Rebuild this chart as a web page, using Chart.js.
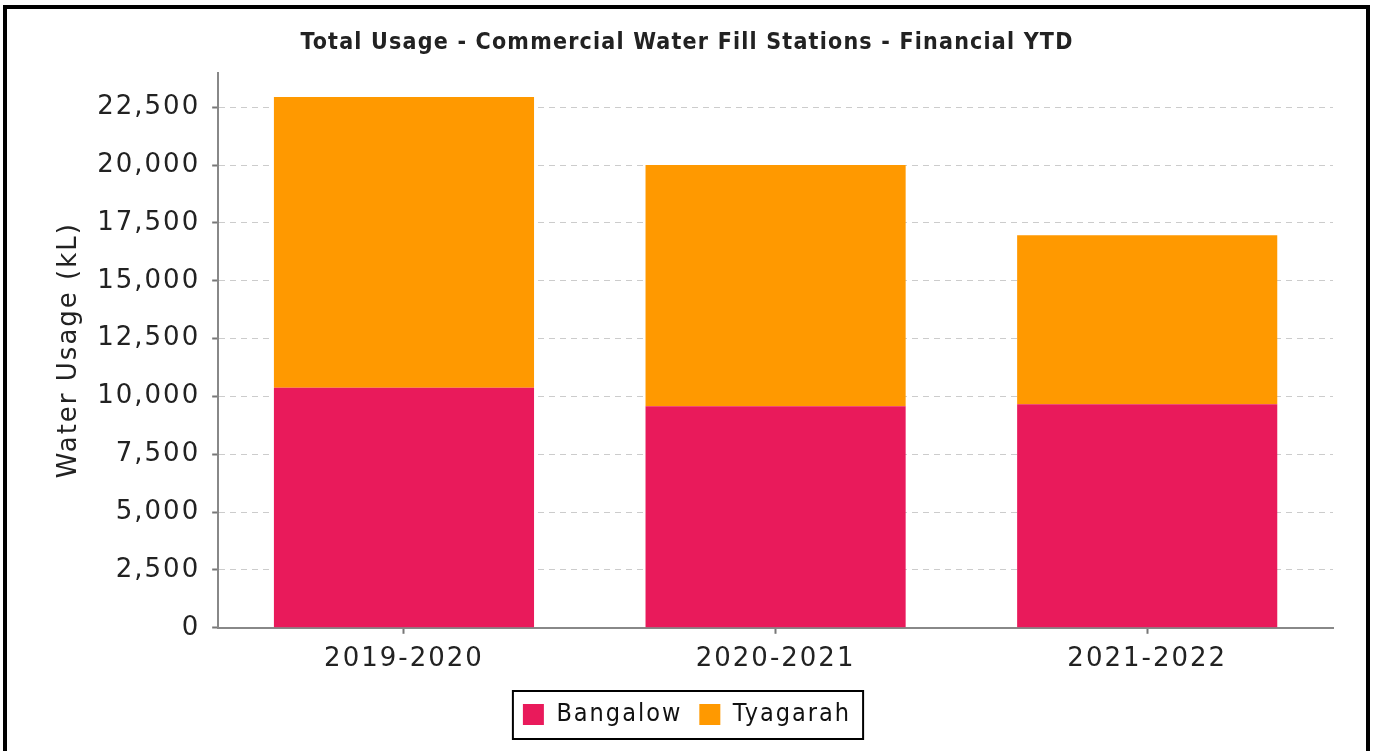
<!DOCTYPE html>
<html>
<head>
<meta charset="utf-8">
<script src="https://cdn.jsdelivr.net/npm/chart.js@4.4.0/dist/chart.umd.min.js"></script>
<style>
html,body{margin:0;padding:0;background:#fff;overflow:hidden;width:1376px;height:751px;}
#frame{position:absolute;left:3px;top:5px;width:1359px;height:800px;border:4px solid #000;box-sizing:content-box;}
#c{position:absolute;left:0;top:0;}
</style>
</head>
<body>
<div id="frame"></div>
<canvas id="c" width="1376" height="751"></canvas>
<script>
// ---- data ----
const categories = ['2019-2020', '2020-2021', '2021-2022'];
const seriesNames = ['Bangalow', 'Tyagarah'];
const bangalow = [10380, 9580, 9660];
const tyagarah = [12560, 10430, 7310];
const yTicks = [0, 2500, 5000, 7500, 10000, 12500, 15000, 17500, 20000, 22500];
const yMin = 0;
const yMax = 24000;
const chartTitle = 'Total Usage - Commercial Water Fill Stations - Financial YTD';
const yTitle = 'Water Usage (kL)';

const colors = ['#e91a5b', '#ff9900'];

const spacingPlugin = {
  id: 'spacing',
  beforeUpdate(c) { c.ctx.letterSpacing = '2px'; },
  beforeLayout(c) { c.ctx.letterSpacing = '2px'; },
  beforeDraw(c) { c.ctx.letterSpacing = '2px'; }
};

const legendBoxPlugin = {
  id: 'legendBox',
  afterDraw(c) {
    const lg = c.legend;
    if (!lg || !lg.legendHitBoxes || !lg.legendHitBoxes.length) return;
    const hb = lg.legendHitBoxes;
    let l = Infinity, r = -Infinity, t = Infinity, b = -Infinity;
    hb.forEach(h => {
      l = Math.min(l, h.left); r = Math.max(r, h.left + h.width);
      t = Math.min(t, h.top); b = Math.max(b, h.top + h.height);
    });
    const ctx = c.ctx;
    ctx.save();
    ctx.strokeStyle = '#000';
    ctx.lineWidth = 2;
    ctx.strokeRect(l - 10, t - 11, (r + 12) - (l - 10), (b + 12) - (t - 11));
    ctx.restore();
  }
};

const chart = new Chart(document.getElementById('c'), {
  type: 'bar',
  data: {
    labels: categories,
    datasets: [
      { label: seriesNames[0], data: bangalow, backgroundColor: colors[0], borderWidth: 0 },
      { label: seriesNames[1], data: tyagarah, backgroundColor: colors[1], borderWidth: 0 }
    ]
  },
  plugins: [spacingPlugin, legendBoxPlugin],
  options: {
    responsive: false,
    devicePixelRatio: 1,
    animation: false,
    categoryPercentage: 0.7,
    barPercentage: 1.0,
    layout: { padding: { left: 41, right: 43, top: 0, bottom: 14 } },
    plugins: {
      tooltip: { enabled: false },
      title: {
        display: true,
        text: chartTitle,
        color: '#222',
        font: { family: 'DejaVu Sans Condensed', weight: 'bold', size: 23 },
        padding: { top: 29, bottom: 16 }
      },
      legend: {
        position: 'bottom',
        labels: {
          boxWidth: 21,
          boxHeight: 21,
          padding: 17,
          color: '#111',
          font: { family: 'DejaVu Sans Condensed', size: 25 }
        }
      }
    },
    scales: {
      x: {
        stacked: true,
        grid: { display: true, drawOnChartArea: false, drawTicks: true, tickLength: 6, tickColor: '#777', tickWidth: 2, offset: false },
        border: { display: true, color: '#888', width: 2 },
        ticks: { color: '#222', padding: 10, font: { family: 'DejaVu Sans', size: 26 } }
      },
      y: {
        stacked: true,
        min: yMin,
        max: yMax,
        afterBuildTicks(scale) { scale.ticks = yTicks.map(v => ({ value: v })); },
        grid: { color: '#cccccc', lineWidth: 1, tickColor: '#777', tickWidth: 2, tickLength: 6, drawTicks: true },
        border: { display: true, color: '#888', width: 2, dash: [6, 5] },
        ticks: { color: '#222', padding: 12, font: { family: 'DejaVu Sans', size: 26 } },
        title: {
          display: true,
          text: yTitle,
          color: '#222',
          font: { family: 'DejaVu Sans', size: 26 },
          padding: { top: 13, bottom: 0 }
        }
      }
    }
  }
});

// title uses narrower letter spacing
const tb = chart.titleBlock;
if (tb) {
  const origDraw = tb.draw.bind(tb);
  tb.draw = function () {
    const ctx = chart.ctx;
    const prev = ctx.letterSpacing;
    ctx.letterSpacing = '1.2px';
    origDraw();
    ctx.letterSpacing = prev;
  };
  chart.draw();
}
</script>
</body>
</html>
